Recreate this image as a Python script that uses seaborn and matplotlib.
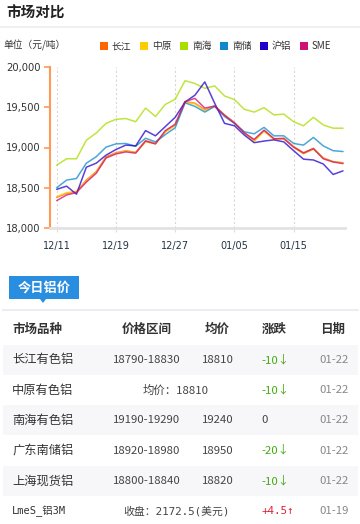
import numpy as np
import pandas as pd
import seaborn as sns
import matplotlib.pyplot as plt
from matplotlib.patches import Rectangle, Polygon

# -------------------------------
# Data
# -------------------------------
dates = ['12/11', '12/12', '12/13', '12/14', '12/15', '12/18', '12/19', '12/20', '12/21', '12/22',
         '12/25', '12/26', '12/27', '12/28', '12/29', '01/02', '01/03', '01/04', '01/05', '01/08',
         '01/09', '01/10', '01/11', '01/12', '01/15', '01/16', '01/17', '01/18', '01/19', '01/22']
tick_labels = ['12/11', '12/19', '12/27', '01/05', '01/15']

changjiang = [18380, 18430, 18450, 18595, 18700, 18885, 18935, 18960, 18940, 19085,
              19050, 19200, 19280, 19570, 19550, 19470, 19515, 19405, 19310, 19185,
              19090, 19210, 19105, 19115, 19010, 18935, 18990, 18870, 18825, 18810]
zhongyuan = [18390, 18440, 18455, 18580, 18690, 18870, 18925, 18955, 18935, 19070,
             19045, 19190, 19275, 19565, 19540, 19455, 19515, 19400, 19305, 19180,
             19075, 19200, 19100, 19110, 19000, 18920, 18980, 18865, 18820, 18810]
nanhai = [18780, 18860, 18860, 19090, 19180, 19300, 19350, 19360, 19320, 19490,
          19385, 19535, 19600, 19830, 19795, 19735, 19765, 19640, 19595, 19475,
          19440, 19495, 19405, 19415, 19320, 19270, 19375, 19280, 19240, 19240]
nanchu = [18500, 18595, 18615, 18805, 18885, 19005, 19045, 19050, 19015, 19115,
          19070, 19160, 19245, 19555, 19510, 19440, 19510, 19385, 19300, 19195,
          19170, 19250, 19145, 19145, 19050, 19030, 19125, 19020, 18960, 18950]
hulv = [18480, 18520, 18420, 18755, 18805, 18905, 18975, 19030, 19020, 19210,
        19145, 19260, 19375, 19565, 19650, 19815, 19550, 19300, 19270, 19155,
        19060, 19080, 19095, 19070, 18960, 18855, 18845, 18795, 18665, 18710]
sme = [18340, 18410, 18440, 18570, 18680, 18870, 18920, 18945, 18930, 19080,
       19045, 19210, 19290, 19570, 19610, 19490, 19515, 19400, 19305, 19180,
       19100, 19215, 19110, 19110, 19005, 18930, 18985, 18860, 18820, 18800]

markets = ['长江', '中原', '南海', '南储', '沪铝', 'SME']
colors = ['#ff6600', '#ffcc00', '#aadd00', '#1188cc', '#2200cc', '#cc1177']

table_names = ['长江有色铝', '中原有色铝', '南海有色铝', '广东南储铝', '上海现货铝', 'LmeS_铝3M']
table_ranges = ['18790-18830', None, '19190-19290', '18920-18980', '18800-18840', None]
table_avgs = ['18810', None, '19240', '18950', '18820', None]
table_merged = [None, '均价：18810', None, None, None, '收盘：2172.5(美元)']
table_changes = ['-10↓', '-10↓', '0', '-20↓', '-10↓', '+4.5↑']
table_dates = ['01-22', '01-22', '01-22', '01-22', '01-22', '01-19']

# long form table for seaborn
series = [changjiang, zhongyuan, nanhai, nanchu, hulv, sme]
rows = []
for name, vals in zip(markets, series):
    for i, (d, v) in enumerate(zip(dates, vals)):
        rows.append({'idx': i, 'date': d, 'market': name, 'price': v})
df = pd.DataFrame(rows)

sns.set_style('white')
plt.rcParams['font.family'] = ['Noto Sans CJK SC', 'DejaVu Sans']

W, H = 360, 524
fig = plt.figure(figsize=(W / 100, H / 100), dpi=100)


def fx(x):
    return x / W


def fy(y):
    return 1 - y / H


# -------------------------------
# Header
# -------------------------------
fig.text(fx(6), fy(13), '市场对比', fontsize=10.5, fontweight='bold', color='#222222',
         va='center', ha='left')
fig.add_artist(plt.Line2D([0, 1], [fy(27), fy(27)], color='#f0f0f0', lw=1.5))
fig.text(fx(3), fy(45), '单位（元/吨）', fontsize=7, color='#333333', va='center', ha='left')

x0 = 100
for name, c in zip(markets, colors):
    fig.add_artist(Rectangle((fx(x0), fy(50)), fx(8), 8 / H, color=c, lw=0))
    fig.text(fx(x0 + 12), fy(46), name, fontsize=7, color='#333333', va='center', ha='left')
    x0 += 40

# -------------------------------
# Line chart
# -------------------------------
ax = fig.add_axes([fx(50), fy(228), 295 / W, 161 / H])
sns.lineplot(data=df, x='idx', y='price', hue='market', hue_order=markets,
             palette=colors, legend=False, ax=ax, linewidth=1.1, alpha=0.75)

ax.set_xlim(-0.68, 29.2)
ax.set_ylim(18000, 20000)
ax.set_yticks([18000, 18500, 19000, 19500, 20000])
ax.set_yticklabels(['{:,}'.format(v) for v in [18000, 18500, 19000, 19500, 20000]],
                   fontsize=7.2, color='#333333', family='DejaVu Sans')
tick_pos = [dates.index(t) for t in tick_labels]
ax.set_xticks(tick_pos)
ax.set_xticklabels(tick_labels, fontsize=7, color='#223344', family='DejaVu Sans')
ax.set_xlabel('')
ax.set_ylabel('')
ax.grid(axis='x', color='#d8d8d8', linestyle=(0, (2, 2)), lw=0.8)
ax.grid(axis='y', visible=False)
for s in ['top', 'right']:
    ax.spines[s].set_visible(False)
ax.spines['left'].set_color('#ff9955')
ax.spines['left'].set_linewidth(1.5)
ax.spines['bottom'].set_color('#e2e2e2')
ax.spines['bottom'].set_linewidth(2)
ax.tick_params(axis='y', length=4, width=1.2, color='#ff9955', pad=3, left=True)
ax.tick_params(axis='x', length=3, width=0.8, color='#dddddd', pad=6, bottom=True)

# -------------------------------
# Price table
# -------------------------------
fig.add_artist(Rectangle((fx(9), fy(299)), fx(70), 23 / H, color='#2a8ee0', lw=0))
fig.add_artist(Polygon([(fx(40), fy(299)), (fx(46), fy(299)), (fx(43), fy(303))],
                       closed=True, color='#2a8ee0', lw=0))
fig.text(fx(44), fy(288), '今日铝价', fontsize=9.5, fontweight='bold', color='white',
         ha='center', va='center')
fig.add_artist(plt.Line2D([fx(3), fx(358)], [fy(310), fy(310)], color='#ececf2', lw=1.5))

hy = 329
fig.text(fx(12), fy(hy), '市场品种', fontsize=9, fontweight='bold', color='#333333', va='center')
for txt, cx in zip(['价格区间', '均价', '涨跌', '日期'], [147, 217, 274, 333]):
    fig.text(fx(cx), fy(hy), txt, fontsize=9, fontweight='bold', color='#333333',
             va='center', ha='center')

for i in range(len(table_names)):
    yc = 360 + 30.2 * i
    if i % 2 == 0:
        fig.add_artist(Rectangle((fx(3), fy(yc + 15)), fx(355), 30 / H,
                                 color='#f7f7fa', lw=0, zorder=0))
    mono = i == len(table_names) - 1
    fam = ['DejaVu Sans Mono', 'Noto Sans CJK SC'] if mono else ['Noto Sans CJK SC', 'DejaVu Sans']
    fig.text(fx(12), fy(yc), table_names[i], fontsize=7.5 if mono else 8.8,
             color='#333333', va='center', ha='left', family=fam)
    if table_merged[i] is not None:
        fig.text(fx(176), fy(yc), table_merged[i], fontsize=7.8 if mono else 8.2,
                 color='#444444', va='center', ha='center', family=fam)
    else:
        fig.text(fx(147), fy(yc), table_ranges[i], fontsize=8.2, color='#444444',
                 va='center', ha='center')
        fig.text(fx(218), fy(yc), table_avgs[i], fontsize=8.2, color='#444444',
                 va='center', ha='center')
    ch = table_changes[i]
    if ch.startswith('-'):
        cc = '#44aa11'
    elif ch.startswith('+'):
        cc = '#dd2233'
    else:
        cc = '#444444'
    fig.text(fx(261), fy(yc), ch, fontsize=7.8 if mono else 8.2, color=cc,
             va='center', ha='left', family=fam)
    fig.text(fx(334), fy(yc), table_dates[i], fontsize=8.2, color='#888888',
             va='center', ha='center')

fig.savefig('out.png', dpi=100)
